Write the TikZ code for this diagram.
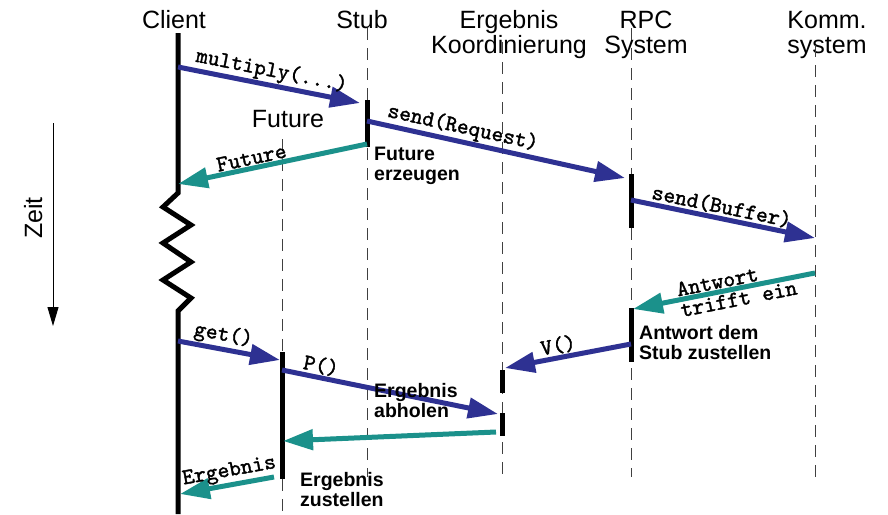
\documentclass[tikz,border=0pt]{standalone}
\usepackage{fontspec}
\setmainfont{Liberation Sans}
\newfontfamily\codefont{lmmono10-regular.otf}[FakeBold=1.6]
\usetikzlibrary{arrows.meta}
\definecolor{msgblue}{HTML}{2E3192}
\definecolor{msgteal}{HTML}{1B918B}
\begin{document}
\begin{tikzpicture}[x=1pt,y=-1pt,
  hdr/.style={font=\fontsize{25}{25}\selectfont, inner sep=0pt, align=center},
  note/.style={font=\bfseries\fontsize{19.5}{20}\selectfont, inner sep=0pt, align=left},
  code/.style={font=\codefont\fontsize{22.5}{21}\selectfont, inner sep=1pt},
  life/.style={draw=black!75, line width=0.8pt, dash pattern=on 12pt off 8pt},
  act/.style={draw=black, line width=5pt},
  callarrow/.style={draw=msgblue, line width=5pt, -{Triangle[length=30pt,width=20pt]}},
  retarrow/.style={draw=msgteal, line width=5pt, -{Triangle[length=30pt,width=20pt]}},
  timearrow/.style={draw=black, line width=1pt, -{Triangle[length=19pt,width=11pt]}}
]
\useasboundingbox (0,0) rectangle (888,514);

% headers (base = last line's baseline)
\node[hdr, anchor=base] (hClient) at (174,28) {Client};
\node[hdr, anchor=base] (hStub) at (362,28) {Stub};
\node[hdr, anchor=base] (hErg) at (509,53) {Ergebnis\\Koordinierung};
\node[hdr, anchor=base] (hRPC) at (646,53) {RPC\\System};
\node[hdr, anchor=base] (hKomm) at (827,53) {Komm.\\system};
\node[hdr, anchor=base] (hFut) at (288,127) {Future};

% lifeline coordinates
\coordinate (stubT) at (367,28);   \coordinate (stubB) at (367,477);
\coordinate (ergT) at (502,42);    \coordinate (ergB) at (502,477);
\coordinate (rpcT) at (631,28);    \coordinate (rpcB) at (631,477);
\coordinate (komT) at (815,45);    \coordinate (komB) at (815,477);
\coordinate (futT) at (282,139);   \coordinate (futB) at (282,514);

\draw[life] (stubT) -- (stubB);
\draw[life] (ergT) -- (ergB);
\draw[life] (rpcT) -- (rpcB);
\draw[life] (komT) -- (komB);
\draw[life] (futT) -- (futB);

% client lifeline with zigzag
\coordinate (cliT) at (178,33);
\coordinate (cliB) at (178,514);
\draw[act, line join=miter] (cliT) -- (178,193) -- (163,207) -- (191,225) -- (163,243)
  -- (191,262) -- (163,280) -- (191,298) -- (178,311) -- (cliB);

% activation bars
\coordinate (sb1) at (367,100); \coordinate (sb2) at (367,147);
\coordinate (rb1) at (631,174); \coordinate (rb2) at (631,228);
\coordinate (rb3) at (631,308); \coordinate (rb4) at (631,362);
\coordinate (eb1) at (502,370); \coordinate (eb2) at (502,393);
\coordinate (eb3) at (502,413); \coordinate (eb4) at (502,436);
\coordinate (pb1) at (282,352); \coordinate (pb2) at (282,479);
\draw[act] (sb1) -- (sb2);
\draw[act] (rb1) -- (rb2);
\draw[act] (rb3) -- (rb4);
\draw[act] (eb1) -- (eb2);
\draw[act] (eb3) -- (eb4);
\draw[act] (pb1) -- (pb2);

% message endpoints
\coordinate (mulS) at (178,67);  \coordinate (mulE) at (360,103);
\coordinate (reqS) at (367,121); \coordinate (reqE) at (625,178);
\coordinate (futS) at (367,144); \coordinate (futE) at (178,184);
\coordinate (bufS) at (631,200); \coordinate (bufE) at (815,238);
\coordinate (antS) at (815,273); \coordinate (antE) at (633,309);
\coordinate (vS) at (631,344);   \coordinate (vE) at (505,368);
\coordinate (getS) at (178,341); \coordinate (getE) at (280,360);
\coordinate (pS) at (282,370);   \coordinate (pE) at (498,414);
\coordinate (resS) at (496,432); \coordinate (resE) at (283,441);
\coordinate (ergS) at (274,477); \coordinate (ergE) at (180,494);

\draw[callarrow] (mulS) -- node[code, sloped, above, pos=0.5] (lMul) {multiply(...)} (mulE);
\draw[callarrow] (reqS) -- node[code, sloped, above, pos=0.36] (lReq) {send(Request)} (reqE);
\draw[retarrow] (futS) -- node[code, sloped, above, pos=0.6] (lFut) {Future} (futE);
\draw[callarrow] (bufS) -- node[code, sloped, above, pos=0.48] (lBuf) {send(Buffer)} (bufE);
\draw[retarrow] (antS) -- node[code, sloped, pos=0.43, align=left] (lAnt) {Antwort\\trifft ein} (antE);
\draw[callarrow] (vS) -- node[code, sloped, above, pos=0.56] (lV) {V()} (vE);
\draw[callarrow] (getS) -- node[code, sloped, above, pos=0.42] (lGet) {get()} (getE);
\draw[callarrow] (pS) -- node[code, sloped, above, pos=0.17] (lP) {P()} (pE);
\draw[retarrow] (resS) -- (resE);
\draw[retarrow] (ergS) -- node[code, sloped, above, pos=0.45] (lErg) {Ergebnis} (ergE);

% notes (base = last line's baseline)
\node[note, anchor=base west] (nFut) at (374,180) {Future\\erzeugen};
\node[note, anchor=base west] (nAnt) at (639,359) {Antwort dem\\Stub zustellen};
\node[note, anchor=base west] (nAbh) at (374,417) {Ergebnis\\abholen};
\node[note, anchor=base west] (nZus) at (300,506) {Ergebnis\\zustellen};

% time axis
\coordinate (tS) at (53,123); \coordinate (tE) at (53,326);
\draw[timearrow] (tS) -- (tE);
\node[hdr, rotate=90, anchor=base] (zeit) at (42,218) {Zeit};
\end{tikzpicture}
\end{document}
